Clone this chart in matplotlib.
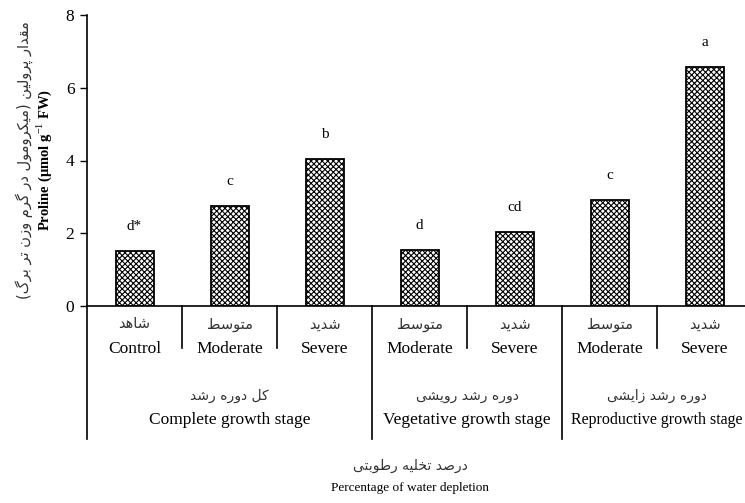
import matplotlib
matplotlib.use("Agg")
import matplotlib.pyplot as plt
from matplotlib.transforms import blended_transform_factory

# ---------------- data ----------------
cat_fa = ["شاهد", "متوسط", "شدید", "متوسط", "شدید", "متوسط", "شدید"]
cat_en = ["Control", "Moderate", "Severe", "Moderate", "Severe", "Moderate", "Severe"]
proline = [1.51, 2.75, 4.03, 1.54, 2.03, 2.91, 6.57]
letters = ["d*", "c", "b", "d", "cd", "c", "a"]
group_fa = ["کل دوره رشد", "دوره رشد رویشی", "دوره رشد زایشی"]
group_en = ["Complete growth stage", "Vegetative growth stage", "Reproductive growth stage"]
group_sizes = [3, 2, 2]
ylabel_fa = "مقدار پرولین (میکرومول در گرم وزن تر برگ)"
ylabel_en = r"Proline (µmol g$^{-1}$ FW)"
xlabel_fa = "درصد تخلیه رطوبتی"
xlabel_en = "Percentage of water depletion"
yticks = [0, 2, 4, 6, 8]

# -------- minimal Arabic/Persian shaping (presentation forms) --------
FORMS = {  # iso, fin, init, med (None -> right-joining only)
    "\u0627": ("\uFE8D", "\uFE8E", None, None),
    "\u0628": ("\uFE8F", "\uFE90", "\uFE91", "\uFE92"),
    "\u062A": ("\uFE95", "\uFE96", "\uFE97", "\uFE98"),
    "\u062E": ("\uFEA5", "\uFEA6", "\uFEA7", "\uFEA8"),
    "\u062F": ("\uFEA9", "\uFEAA", None, None),
    "\u0631": ("\uFEAD", "\uFEAE", None, None),
    "\u0632": ("\uFEAF", "\uFEB0", None, None),
    "\u0633": ("\uFEB1", "\uFEB2", "\uFEB3", "\uFEB4"),
    "\u0634": ("\uFEB5", "\uFEB6", "\uFEB7", "\uFEB8"),
    "\u0635": ("\uFEB9", "\uFEBA", "\uFEBB", "\uFEBC"),
    "\u0637": ("\uFEC1", "\uFEC2", "\uFEC3", "\uFEC4"),
    "\u0642": ("\uFED5", "\uFED6", "\uFED7", "\uFED8"),
    "\u0644": ("\uFEDD", "\uFEDE", "\uFEDF", "\uFEE0"),
    "\u0645": ("\uFEE1", "\uFEE2", "\uFEE3", "\uFEE4"),
    "\u0646": ("\uFEE5", "\uFEE6", "\uFEE7", "\uFEE8"),
    "\u0647": ("\uFEE9", "\uFEEA", "\uFEEB", "\uFEEC"),
    "\u0648": ("\uFEED", "\uFEEE", None, None),
    "\u067E": ("\uFB56", "\uFB57", "\uFB58", "\uFB59"),
    "\u06A9": ("\uFB8E", "\uFB8F", "\uFB90", "\uFB91"),
    "\u06AF": ("\uFB92", "\uFB93", "\uFB94", "\uFB95"),
    "\u06CC": ("\uFBFC", "\uFBFD", "\uFBFE", "\uFBFF"),
}


def shape(s):
    out = []
    n = len(s)
    for i, ch in enumerate(s):
        if ch not in FORMS:
            out.append(ch)
            continue
        f = FORMS[ch]
        prev = s[i - 1] if i > 0 else None
        nxt = s[i + 1] if i < n - 1 else None
        join_prev = prev in FORMS and FORMS[prev][2] is not None
        join_next = f[2] is not None and nxt in FORMS
        if join_prev and join_next:
            out.append(f[3])
        elif join_prev:
            out.append(f[1])
        elif join_next:
            out.append(f[2])
        else:
            out.append(f[0])
    vis = "".join(reversed(out))
    vis = vis.translate(str.maketrans({"(": ")", ")": "("}))
    return vis


# ---------------- plot ----------------
plt.rcParams["font.family"] = ["Liberation Serif", "DejaVu Sans"]
plt.rcParams["mathtext.fontset"] = "custom"
plt.rcParams["mathtext.rm"] = "Liberation Serif"
plt.rcParams["mathtext.bf"] = "Liberation Serif:bold"
plt.rcParams["hatch.linewidth"] = 0.8

W, H = 745, 503
fig = plt.figure(figsize=(W / 100, H / 100), dpi=100)
ax_left, ax_right, ax_top, ax_bot = 87, 752, 15, 306
ax = fig.add_axes([ax_left / W, 1 - ax_bot / H, (ax_right - ax_left) / W, (ax_bot - ax_top) / H])

x = list(range(len(proline)))
ax.bar(x, proline, width=0.4, color="white", edgecolor="black", linewidth=1.3,
       hatch="xxxxxx", zorder=2)

for xi, v, lab in zip(x, proline, letters):
    ax.annotate(lab, (xi, v), xytext=(0, 13), textcoords="offset points",
                ha="center", va="bottom", fontsize=11, family="Liberation Serif")

ax.set_xlim(-0.5, len(proline) - 0.5)
ax.set_ylim(0, 8)
ax.set_yticks(yticks)
ax.set_yticklabels([str(t) for t in yticks], fontsize=12.5)
ax.tick_params(axis="y", direction="out", length=5, width=1, pad=4)
ax.set_xticks([])
for sp in ["top", "right"]:
    ax.spines[sp].set_visible(False)
ax.spines["left"].set_linewidth(1.2)
ax.spines["bottom"].set_linewidth(1.2)

trans = blended_transform_factory(ax.transData, ax.transAxes)
px = 1.0 / (ax_bot - ax_top)  # one pixel in axes fraction (vertical)

# left axis extension below the plot
ax.plot([-0.5, -0.5], [0, -(439 - ax_bot) * px], transform=trans, color="black",
        lw=1.2, clip_on=False)

# separators
bounds = []
acc = 0
for g in group_sizes:
    acc += g
    bounds.append(acc)
for k in range(1, len(proline)):
    major = k in bounds
    yend = 439 if major else 348
    ax.plot([k - 0.5, k - 0.5], [0, -(yend - ax_bot) * px], transform=trans,
            color="black", lw=1.2, clip_on=False)

# category labels
for xi, fa, en in zip(x, cat_fa, cat_en):
    ax.text(xi, -(324 - ax_bot) * px, shape(fa), transform=trans, ha="center",
            va="center", fontsize=10.5, family="DejaVu Sans", color="#333333")
    ax.text(xi, -(349 - ax_bot) * px, en, transform=trans, ha="center",
            va="center", fontsize=12.5)

# group labels
start = 0
group_fs = [12.5, 12.5, 11.5]
for g, fa, en, fs in zip(group_sizes, group_fa, group_en, group_fs):
    c = start + (g - 1) / 2
    ax.text(c, -(396 - ax_bot) * px, shape(fa), transform=trans, ha="center",
            va="center", fontsize=10, family="DejaVu Sans", color="#333333")
    ax.text(c, -(420 - ax_bot) * px, en, transform=trans, ha="center",
            va="center", fontsize=fs)
    start += g

# x axis title
cx = 410 / W
fig.text(cx, 1 - 466 / H, shape(xlabel_fa), ha="center", va="center", fontsize=10,
         family="DejaVu Sans", color="#333333")
fig.text(cx, 1 - 488 / H, xlabel_en, ha="center", va="center", fontsize=9.5)

# y axis title
cy = 1 - 160 / H
fig.text(24 / W, cy, shape(ylabel_fa), rotation=90, ha="center", va="center",
         fontsize=10.5, family="DejaVu Sans", color="#333333")
fig.text(44 / W, cy, ylabel_en, rotation=90, ha="center", va="center",
         fontsize=10.5, fontweight="bold")

fig.savefig("out.png", dpi=100)
